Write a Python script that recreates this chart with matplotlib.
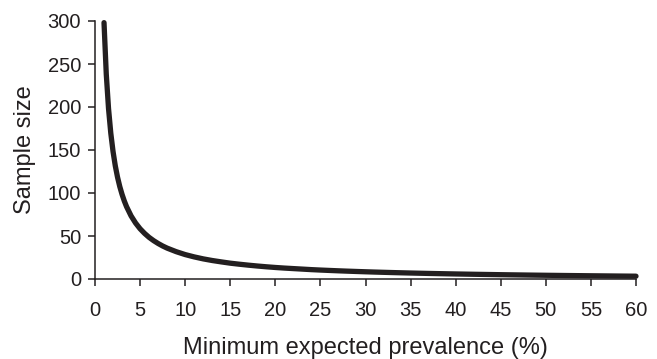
import matplotlib
matplotlib.use('Agg')
import matplotlib.pyplot as plt

# minimum expected prevalence (%) and sample size
# (finer steps where the curve is steep)
prevalence = [1, 1.25, 1.5, 1.75, 2, 2.25, 2.5, 2.75, 3, 3.25, 3.5, 4, 4.5, 5,
              5.5, 6, 6.5, 7, 7.5, 8, 9, 10] + list(range(11, 61))
sample_size = [298.1, 238.2, 198.2, 169.7, 148.3, 131.6, 118.3, 107.4, 98.4,
               90.7, 84.1, 73.4, 65.1, 58.4, 53.0, 48.4, 44.6, 41.3, 38.4,
               35.9, 31.8, 28.4,
               25.7, 23.4, 21.5, 19.9, 18.4, 17.2, 16.1, 15.1, 14.2, 13.4,
               12.7, 12.1, 11.5, 10.9, 10.4, 9.95, 9.52, 9.12, 8.75, 8.40,
               8.07, 7.77, 7.48, 7.21, 6.95, 6.71, 6.48, 6.27, 6.06, 5.86,
               5.68, 5.50, 5.33, 5.17, 5.01, 4.86, 4.72, 4.58, 4.45, 4.32,
               4.20, 4.08, 3.97, 3.86, 3.75, 3.65, 3.55, 3.45, 3.36, 3.27]
xticks = list(range(0, 61, 5))
yticks = list(range(0, 301, 50))

ink = '#231f20'
plt.rcParams['font.family'] = ['Liberation Sans', 'DejaVu Sans']

fig = plt.figure(figsize=(6.57, 3.59), dpi=100)
ax = fig.add_axes([95/657, 80/359, (636-95)/657, (279-21)/359])

ax.plot(prevalence, sample_size, color=ink, lw=3.8, solid_capstyle='round',
        solid_joinstyle='round', clip_on=False)

ax.set_xlim(0, 60)
ax.set_ylim(0, 300)
ax.set_xticks(xticks)
ax.set_yticks(yticks)
for s in ['top', 'right']:
    ax.spines[s].set_visible(False)
for s in ['left', 'bottom']:
    ax.spines[s].set_color(ink)
    ax.spines[s].set_linewidth(1.1)
ax.tick_params(direction='out', length=5, width=1.1, color=ink,
               labelsize=14.5, labelcolor=ink)
ax.tick_params(axis='x', pad=11)
ax.tick_params(axis='y', pad=5)

ax.set_xlabel('Minimum expected prevalence (%)', fontsize=17, color=ink, labelpad=12)
ax.set_ylabel('Sample size', fontsize=17, color=ink, labelpad=8)

fig.savefig('out.png', dpi=100)
